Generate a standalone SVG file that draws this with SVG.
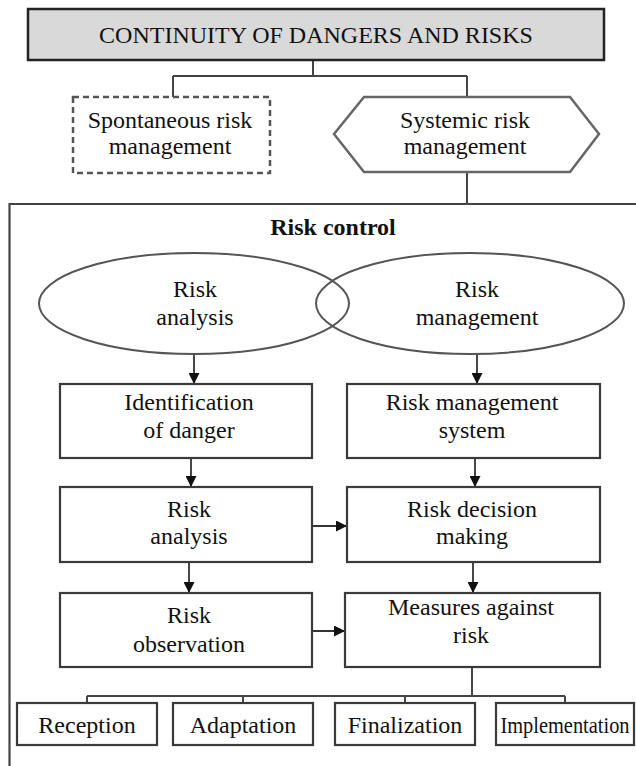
<svg xmlns="http://www.w3.org/2000/svg" width="636" height="766" viewBox="0 0 636 766">
<defs>
<marker id="ah" markerUnits="userSpaceOnUse" markerWidth="11" markerHeight="11" refX="11" refY="5.5" orient="auto">
<path d="M0,0 L11,5.5 L0,11 z" fill="#111"/>
</marker>
<style>
text{font-family:'Liberation Serif','Times New Roman',Tinos,'DejaVu Serif',serif;font-size:24px;fill:#111;text-anchor:middle}
.b{font-weight:bold}
.box{fill:#fff;stroke:#3a3a3a;stroke-width:2.2}
.ln{fill:none;stroke:#444;stroke-width:2}
.ar{fill:none;stroke:#333;stroke-width:1.8;marker-end:url(#ah)}
</style>
</defs>
<rect width="636" height="766" fill="#fff"/>
<g id="connectors">
<path class="ln" d="M313,60 V76 M173,76 H467 M173,76 V97 M467,76 V97"/>
<path class="ln" d="M467,172 V204"/>
<path class="ar" d="M194,354 V384"/>
<path class="ar" d="M477,354 V384"/>
<path class="ar" d="M191,458 V487"/>
<path class="ar" d="M475,458 V487"/>
<path class="ar" d="M189,562 V593"/>
<path class="ar" d="M473,562 V593"/>
<path class="ar" d="M312,526 H347"/>
<path class="ar" d="M312,631 H345"/>
<path class="ln" d="M472,667 V696 M87,696 H565 M87,696 V703 M243,696 V703 M405,696 V703 M565,696 V703"/>
</g>
<g font-family="Liberation Serif, serif">
<g id="title">
<rect x="28" y="9" width="576" height="51" fill="#d9d9d9" stroke="#222" stroke-width="2.5"/>
<text x="316" y="43">CONTINUITY OF DANGERS AND RISKS</text>
</g>
<g id="spontaneous">
<rect x="73" y="97" width="197" height="76" fill="#fff" stroke="#555" stroke-width="2.5" stroke-dasharray="6,4"/>
<text x="170" y="128">Spontaneous risk</text>
<text x="170" y="154">management</text>
</g>
<g id="systemic">
<polygon points="334,134 364,97 570,97 599,134 570,172 364,172" fill="#fff" stroke="#666" stroke-width="2.5"/>
<text x="465" y="128">Systemic risk</text>
<text x="465" y="154">management</text>
</g>
<g id="risk-control">
<path d="M636,204 H9.5 V766" fill="none" stroke="#444" stroke-width="2.2"/>
<text class="b" x="333" y="235">Risk control</text>
</g>
<g id="ellipse-analysis">
<ellipse cx="194" cy="303.5" rx="155" ry="50.5" fill="none" stroke="#555" stroke-width="2"/>
<text x="195" y="297">Risk</text>
<text x="195" y="325">analysis</text>
</g>
<g id="ellipse-management">
<ellipse cx="470" cy="303.5" rx="154" ry="50.5" fill="none" stroke="#555" stroke-width="2"/>
<text x="477" y="297">Risk</text>
<text x="477" y="325">management</text>
</g>
<g id="identification">
<rect class="box" x="60" y="384" width="252" height="74"/>
<text x="189" y="410">Identification</text>
<text x="189" y="438">of danger</text>
</g>
<g id="rm-system">
<rect class="box" x="347" y="384" width="253" height="74"/>
<text x="472" y="410">Risk management</text>
<text x="472" y="438">system</text>
</g>
<g id="analysis">
<rect class="box" x="60" y="487" width="252" height="75"/>
<text x="189" y="517">Risk</text>
<text x="189" y="544">analysis</text>
</g>
<g id="decision">
<rect class="box" x="347" y="487" width="253" height="75"/>
<text x="472" y="517">Risk decision</text>
<text x="472" y="544">making</text>
</g>
<g id="observation">
<rect class="box" x="60" y="593" width="252" height="74"/>
<text x="189" y="623">Risk</text>
<text x="189" y="652">observation</text>
</g>
<g id="measures">
<rect class="box" x="345" y="593" width="255" height="74"/>
<text x="471" y="615">Measures against</text>
<text x="471" y="643">risk</text>
</g>
<g id="reception">
<rect class="box" x="17" y="703" width="140" height="42"/>
<text x="87" y="733">Reception</text>
</g>
<g id="adaptation">
<rect class="box" x="173" y="703" width="140" height="42"/>
<text x="243" y="733">Adaptation</text>
</g>
<g id="finalization">
<rect class="box" x="335" y="703" width="140" height="42"/>
<text x="405" y="733">Finalization</text>
</g>
<g id="implementation">
<rect class="box" x="496" y="703" width="138" height="42"/>
<text transform="translate(565,733) scale(0.85,1)" x="0" y="0">Implementation</text>
</g>
</g>
</svg>
